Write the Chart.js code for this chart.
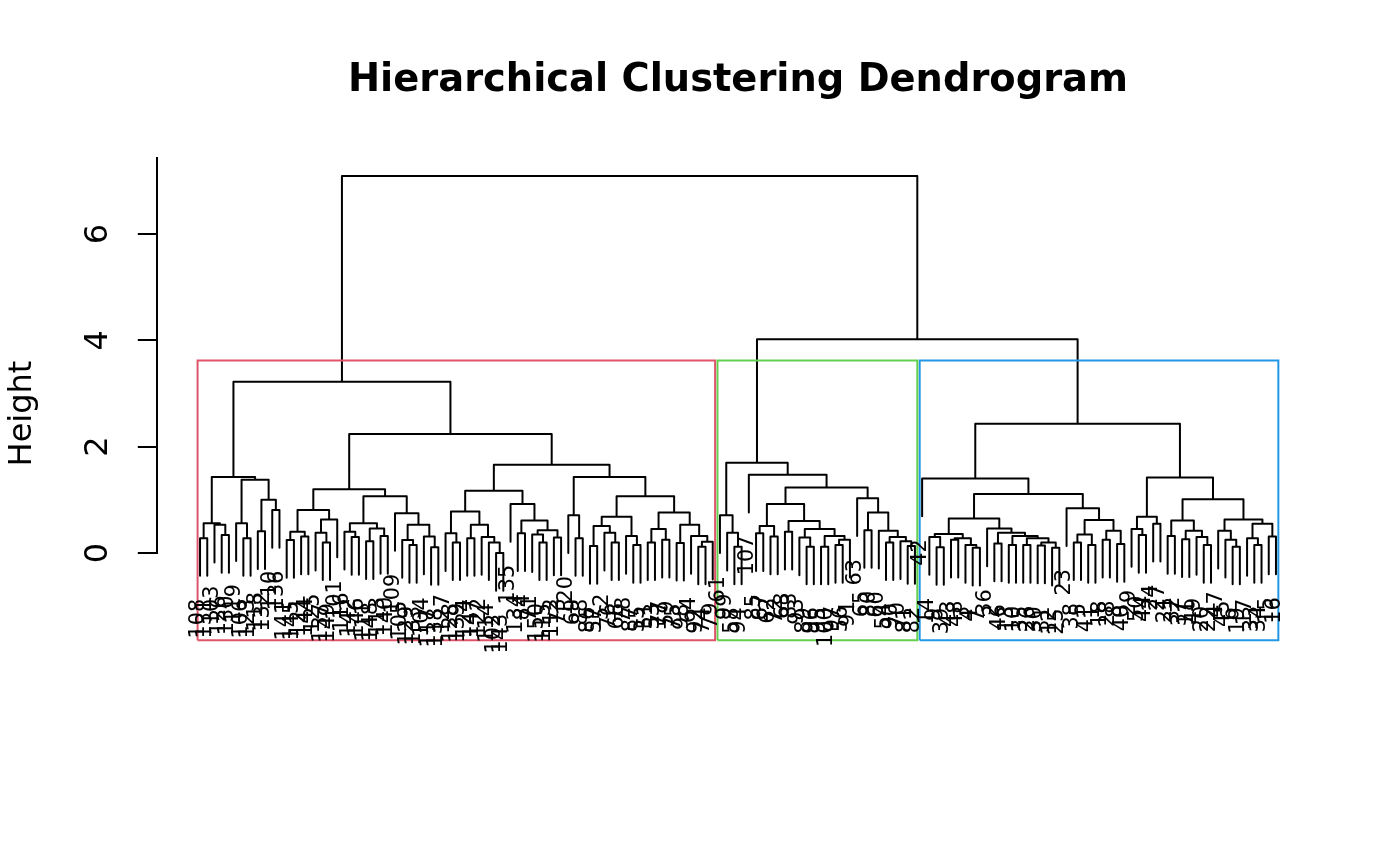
<!DOCTYPE html>
<html>
<head>
<meta charset="utf-8">
<script src="https://cdn.jsdelivr.net/npm/chart.js@4.4.1/dist/chart.umd.min.js"></script>
<style>
html,body{margin:0;padding:0;background:#ffffff;}
canvas{display:block;}
</style>
</head>
<body>
<canvas id="c" width="1400" height="866"></canvas>
<script>
// ---------------- data ----------------
const chartTitle = "Hierarchical Clustering Dendrogram";
const yTitle = "Height";
const yTicks = [0, 2, 4, 6];

// leaf labels, left to right
const leafLabels = [
  "108","131","103","126","130","119","106","123","118","132","110","136",
  "141","145","121","144","125","137","149","101",
  "116","142","146","111","148","113","140",
  "109","105","129","133","104","117","138",
  "127","128","139","124","147","122","114","102","143","135",
  "134","84","71","150","115","112","73",
  "120","69","88",
  "86","57","52","76","66","78","87","55",
  "51","53","77","59","75","98","64","92","74","79",
  "61","99","58","94","107","85","67","62","72","68","83","93","89","96",
  "95","100","97","56","91","63","65","80","60","54","90","70","81","82",
  "42","14","9","39","43","48","3","4","7","36",
  "2","46","13","10","35","26","30","31","12","25",
  "23","38","5","41","1","18","28","8","40",
  "29","50","44","24","27","21","32","37","11","49","20","22","47","45",
  "6","19","17","33","34","15","16"
];

// merges: [height, left, right]; a number is a leaf position (1-based) in leafLabels
const redLeft = [1.43,
  [0.56, [0.28, 1, 2], [0.53, 3, [0.34, 4, 5]]],
  [1.38, [0.56, 6, [0.28, 7, 8]], [1.00, [0.41, 9, 10], [0.81, 11, 12]]]];
const redMidA = [1.20,
  [0.81, [0.40, [0.245, 13, 14], [0.31, 15, 16]], [0.63, [0.38, 17, [0.20, 18, 19]], 20]],
  [1.07,
    [0.56, [0.40, 21, [0.30, 22, 23]], [0.46, [0.22, 24, 25], [0.32, 26, 27]]],
    [0.75, 28, [0.53, [0.245, 29, [0.15, 30, 31]], [0.31, 32, [0.11, 33, 34]]]]]];
const redMidB = [1.17,
  [0.78, [0.37, 35, [0.20, 36, 37]], [0.53, [0.28, 38, 39], [0.30, 40, [0.20, 41, [0.00, 42, 43]]]]],
  [0.92, 44, [0.61, [0.37, 45, 46], [0.43, [0.35, 47, [0.20, 48, 49]], [0.29, 50, 51]]]]];
const redRight = [1.43,
  [0.71, 52, [0.28, 53, 54]],
  [1.07,
    [0.68, [0.51, [0.13, 55, 56], [0.38, 57, [0.20, 58, 59]]], [0.32, 60, [0.15, 61, 62]]],
    [0.76, [0.45, [0.20, 63, 64], [0.25, 65, 66]],
           [0.53, [0.19, 67, 68], [0.32, 69, [0.21, [0.12, 70, 71], 72]]]]]];
const redTree = [3.22, redLeft, [2.24, redMidA, [1.66, redMidB, redRight]]];

const greenTree = [1.70,
  [0.71, 73, [0.38, 74, [0.12, 75, 76]]],
  [1.47, 77,
    [1.23,
      [0.92, [0.51, [0.37, 78, 79], [0.31, 80, 81]],
             [0.60, [0.40, 82, 83],
                    [0.45, [0.29, 84, [0.12, 85, 86]],
                           [0.32, [0.12, 87, 88], [0.25, [0.15, 89, 90], 91]]]]],
      [1.03, 92, [0.76, [0.43, 93, 94],
                        [0.42, 95, [0.30, [0.20, 96, 97], [0.22, 98, [0.13, 99, 100]]]]]]]]];

const blueLeft = [1.40, 101,
  [1.11,
    [0.65,
      [0.36, [0.30, 102, [0.11, 103, 104]], [0.28, [0.25, 105, 106], [0.15, 107, [0.10, 108, 109]]]],
      [0.46, 110, [0.38, [0.18, 111, 112],
                         [0.32, [0.15, 113, 114],
                                [0.28, [0.15, 115, 116], [0.20, [0.14, 117, 118], [0.10, 119, 120]]]]]]],
    [0.84, 121, [0.62, [0.35, [0.20, 122, 123], [0.15, 124, 125]],
                       [0.42, [0.25, 126, 127], [0.17, 128, 129]]]]]];
const blueRight = [1.42,
  [0.68, [0.45, 130, [0.34, 131, 132]], [0.55, 133, 134]],
  [1.01,
    [0.61, [0.32, 135, 136], [0.42, [0.26, 137, 138], [0.30, 139, [0.15, 140, 141]]]],
    [0.63, [0.42, 142, [0.25, 143, [0.12, 144, 145]]],
           [0.55, [0.28, 146, [0.15, 147, 148]], [0.31, 149, 150]]]]];
const blueTree = [2.43, blueLeft, blueRight];

const rootTree = [7.09, redTree, [4.02, greenTree, blueTree]];

const clusterSizes = [72, 28, 50];
const clusterColors = ["#DF536B", "#61D04F", "#2297E6"];
const hangFraction = 0.1;
const rectBottom = -1.64;
const xRange = [-4.96, 155.96];
const yRange = [-2.2, 7.448];

// ---------------- build line data from the tree ----------------
const allHeights = [];
(function collect(n){ if (typeof n === 'number') return; allHeights.push(n[0]); collect(n[1]); collect(n[2]); })(rootTree);
const sortedH = allHeights.slice().sort((a,b)=>b-a);
const hang = hangFraction * (sortedH[0] - sortedH[sortedH.length-1]);
const cutHeight = (sortedH[1] + sortedH[2]) / 2;   // k = 3

const leafBottom = {};
const dendroData = [];
function walk(node){
  if (typeof node === 'number') return {x: node, top: null};
  const h = node[0];
  const L = walk(node[1]), R = walk(node[2]);
  const lb = L.top === null ? h - hang : L.top;
  const rb = R.top === null ? h - hang : R.top;
  if (L.top === null) leafBottom[node[1]] = lb;
  if (R.top === null) leafBottom[node[2]] = rb;
  dendroData.push({x:L.x, y:lb}, {x:L.x, y:h}, {x:R.x, y:h}, {x:R.x, y:rb}, {x:L.x, y:null});
  return {x: (L.x + R.x)/2, top: h};
}
walk(rootTree);

const rectSets = [];
let start = 0;
clusterSizes.forEach((n, i) => {
  const x0 = start + 0.66, x1 = start + n + 0.33;
  rectSets.push({
    data: [{x:x0,y:rectBottom},{x:x0,y:cutHeight},{x:x1,y:cutHeight},{x:x1,y:rectBottom},{x:x0,y:rectBottom}],
    showLine: true, borderColor: clusterColors[i], borderWidth: 2, pointRadius: 0,
    fill: false, tension: 0, borderJoinStyle: 'miter', clip: false
  });
  start += n;
});

const FONT = '"DejaVu Sans", "Liberation Sans", sans-serif';

const axisLinePlugin = {
  id: 'axisLine',
  afterDraw(chart){
    const {ctx, chartArea, scales:{y}} = chart;
    ctx.save();
    ctx.strokeStyle = '#000'; ctx.lineWidth = 2; ctx.lineCap = 'butt';
    ctx.beginPath();
    ctx.moveTo(chartArea.left, y.getPixelForValue(yTicks[0]) + 1);
    ctx.lineTo(chartArea.left, chartArea.top);
    ctx.stroke();
    ctx.restore();
  }
};

const textPlugin = {
  id: 'dendroText',
  afterDraw(chart){
    const {ctx, chartArea, scales:{x, y}} = chart;
    ctx.save();
    ctx.fillStyle = '#000';
    ctx.font = 'bold 38.4px ' + FONT;
    ctx.textAlign = 'center'; ctx.textBaseline = 'alphabetic';
    ctx.fillText(chartTitle, (chartArea.left + chartArea.right)/2, 91);
    ctx.font = '20.8px ' + FONT;
    ctx.textAlign = 'right';
    leafLabels.forEach((lab, i) => {
      const pos = i + 1;
      const px = x.getPixelForValue(pos) + 3.8;
      const py = y.getPixelForValue(leafBottom[pos]) + 23;
      ctx.save(); ctx.translate(px, py); ctx.rotate(-Math.PI/2); ctx.fillText(lab, 0, 0); ctx.restore();
    });
    ctx.restore();
  }
};

Chart.defaults.font.family = FONT;
new Chart(document.getElementById('c').getContext('2d'), {
  type: 'scatter',
  data: {
    datasets: rectSets.concat([{
      data: dendroData, showLine: true, spanGaps: false, borderColor: '#000', borderWidth: 2,
      pointRadius: 0, fill: false, tension: 0, borderJoinStyle: 'round', borderCapStyle: 'round', clip: false
    }])
  },
  options: {
    responsive: false, animation: false, devicePixelRatio: 1,
    layout: { padding: { top: 157, right: 81, bottom: 196, left: 0 } },
    plugins: { legend: {display: false}, tooltip: {enabled: false}, title: {display: false} },
    scales: {
      x: { type: 'linear', min: xRange[0], max: xRange[1], display: false },
      y: {
        type: 'linear', min: yRange[0], max: yRange[1],
        afterFit: s => { s.width = 157; },
        afterBuildTicks: s => { s.ticks = yTicks.map(v => ({value: v})); },
        border: { display: false },
        grid: { drawOnChartArea: false, drawTicks: true, tickLength: 19.2, color: '#000', lineWidth: 2 },
        ticks: { color: '#000', font: {size: 32, family: FONT}, minRotation: 90, maxRotation: 90,
                 crossAlign: 'center', padding: 28.6, autoSkip: false, callback: v => String(v) },
        title: { display: true, text: yTitle, color: '#000', font: {size: 32, family: FONT}, padding: {top: 3, bottom: 0} }
      }
    }
  },
  plugins: [axisLinePlugin, textPlugin]
});
</script>
</body>
</html>
